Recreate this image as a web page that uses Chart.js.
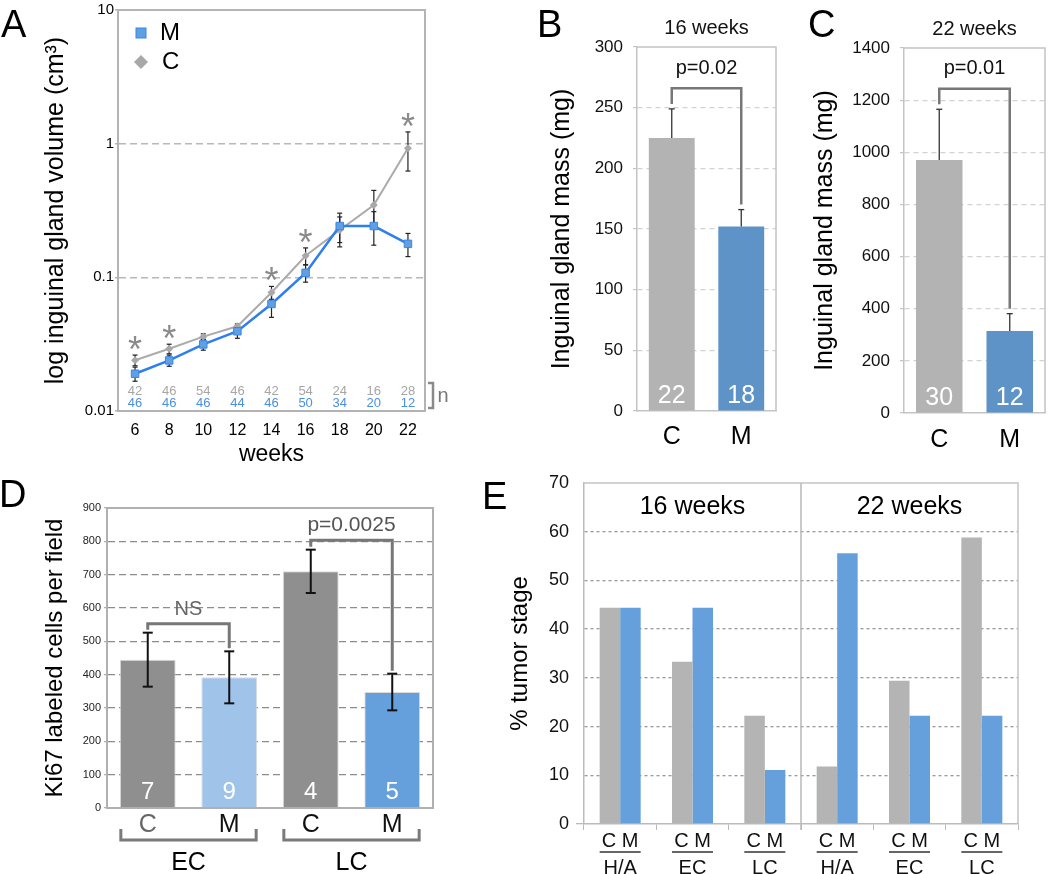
<!DOCTYPE html>
<html>
<head>
<meta charset="utf-8">
<title>Inguinal gland growth panels</title>
<script src="https://cdn.jsdelivr.net/npm/chart.js@4.4.1/dist/chart.umd.min.js"></script>
<style>
  body { margin: 0; background: #fff; }
  #page { position: relative; width: 1050px; height: 874px; overflow: hidden; font-family: "Liberation Sans", Arial, sans-serif; }
  .panel { position: absolute; }
  .letter { position: absolute; font-size: 38px; line-height: 1; color: #000; }
</style>
</head>
<body>
<div id="page">
  <div class="panel" style="left:0;top:0;width:470px;height:470px"><canvas id="chartA"></canvas></div>
  <div class="panel" style="left:520px;top:0;width:270px;height:450px"><canvas id="chartB"></canvas></div>
  <div class="panel" style="left:790px;top:0;width:260px;height:450px"><canvas id="chartC"></canvas></div>
  <div class="panel" style="left:0;top:455px;width:470px;height:419px"><canvas id="chartD"></canvas></div>
  <div class="panel" style="left:480px;top:455px;width:570px;height:419px"><canvas id="chartE"></canvas></div>
  <div class="letter" style="left:1px;top:5px">A</div>
  <div class="letter" style="left:537px;top:5px">B</div>
  <div class="letter" style="left:808px;top:5px">C</div>
  <div class="letter" style="left:-1px;top:475px">D</div>
  <div class="letter" style="left:482px;top:477px">E</div>
</div>
<script>
// panel A - gland volume over time (log scale)
const weeks = ['6', '8', '10', '12', '14', '16', '18', '20', '22'];
const volM = [0.019, 0.0239, 0.0315, 0.0395, 0.0632, 0.108, 0.242, 0.242, 0.178];
const volMErr = [0.0023, 0.0023, 0.003, 0.0045, 0.013, 0.016, 0.06, 0.068, 0.035];
const volC = [0.024, 0.0292, 0.036, 0.043, 0.077, 0.145, 0.226, 0.347, 0.924];
const volCErr = [0.0022, 0.0024, 0.0018, 0.0018, 0.0085, 0.021, 0.057, 0.1, 0.3];
const nC = [42, 46, 54, 46, 42, 54, 24, 16, 28];
const nM = [46, 46, 46, 44, 46, 50, 34, 20, 12];
const starWeeks = ['6', '8', '14', '16', '22'];
const volTicks = [0.01, 0.1, 1, 10];

// panels B and C - gland mass
const massLabels = ['C', 'M'];
const mass16 = [225, 152];
const mass16Err = [24, 14];
const mass16N = [22, 18];
const mass16Bracket = 266;
const mass22 = [970, 315];
const mass22Err = [195, 66];
const mass22N = [30, 12];
const mass22Bracket = 1244;

// panel D - Ki67
const ki67Labels = ['C', 'M', 'C', 'M'];
const ki67 = [445, 392, 710, 348];
const ki67Err = [81, 78, 65, 55];
const ki67N = [7, 9, 4, 5];
const ki67Groups = ['EC', 'LC'];
const nsBracket = 553;
const pBracket = 803;

// panel E - tumor stage
const stageLabels = ['H/A', 'EC', 'LC', 'H/A', 'EC', 'LC'];
const stageC = [44.4, 33.3, 22.2, 11.8, 29.4, 58.8];
const stageM = [44.4, 44.4, 11.1, 55.6, 22.2, 22.2];
const stageTimes = ['16 weeks', '22 weeks'];

const FONT = '"Liberation Sans", Arial, sans-serif';
const NONE = 'rgba(0,0,0,0)';
Chart.defaults.font.family = FONT;
Chart.defaults.color = '#000';
Chart.defaults.animation = false;
Chart.defaults.maintainAspectRatio = false;
Chart.defaults.plugins.legend.display = false;
Chart.defaults.plugins.tooltip.enabled = false;

function drawText(ctx, str, x, y, size, color, align, baseline) {
    ctx.save();
    ctx.font = size + 'px ' + FONT;
    ctx.fillStyle = color;
    ctx.textAlign = align || 'center';
    ctx.textBaseline = baseline || 'middle';
    ctx.fillText(str, x, y);
    ctx.restore();
}

function drawPath(ctx, pts, color, width) {
    ctx.save();
    ctx.strokeStyle = color;
    ctx.lineWidth = width;
    ctx.beginPath();
    ctx.moveTo(pts[0][0], pts[0][1]);
    for (let i = 1; i < pts.length; i++) ctx.lineTo(pts[i][0], pts[i][1]);
    ctx.stroke();
    ctx.restore();
}

function drawFrame(ctx, a, color, width) {
    drawPath(ctx, [[a.left, a.top], [a.right, a.top], [a.right, a.bottom]], color, width);
}

function drawError(ctx, x, yHi, yLo, cap, color, width, lowCap) {
    drawPath(ctx, [[x, yHi], [x, yLo]], color, width);
    drawPath(ctx, [[x - cap, yHi], [x + cap, yHi]], color, width);
    if (lowCap) drawPath(ctx, [[x - cap, yLo], [x + cap, yLo]], color, width);
}

function drawBracket(ctx, x1, x2, yLine, y1, y2, color, width) {
    drawPath(ctx, [[x1, y1], [x1, yLine], [x2, yLine], [x2, y2]], color, width);
}

// ---------- A ----------
const extrasA = {
    id: 'extrasA',
    beforeDatasetsDraw(chart) {
        const { ctx, chartArea: a, scales: { x, y } } = chart;
        drawFrame(ctx, a, '#b4b4b4', 2);
        weeks.forEach((w, i) => {
            const px = x.getPixelForValue(i);
            drawError(ctx, px, y.getPixelForValue(volC[i] + volCErr[i]), y.getPixelForValue(volC[i] - volCErr[i]), 2.5, '#222', 1.2, true);
            drawError(ctx, px, y.getPixelForValue(volM[i] + volMErr[i]), y.getPixelForValue(volM[i] - volMErr[i]), 2.5, '#222', 1.2, true);
        });
    },
    afterDatasetsDraw(chart) {
        const { ctx, chartArea: a, scales: { x, y } } = chart;
        weeks.forEach((w, i) => {
            const px = x.getPixelForValue(i);
            drawText(ctx, String(nC[i]), px, a.bottom - 20, 13, '#a6a6a6');
            drawText(ctx, String(nM[i]), px, a.bottom - 8, 13, '#4a90e0');
        });
        starWeeks.forEach(w => {
            const i = weeks.indexOf(w);
            drawText(ctx, '*', x.getPixelForValue(i), y.getPixelForValue(volC[i] + volCErr[i]) + 7, 36, '#8a8a8a', 'center', 'alphabetic');
        });
        drawPath(ctx, [[a.right + 3, a.bottom - 28], [a.right + 8, a.bottom - 28], [a.right + 8, a.bottom - 3], [a.right + 3, a.bottom - 3]], '#8a8a8a', 2.5);
        drawText(ctx, 'n', a.right + 18, a.bottom - 15, 20, '#777');
        // legend
        const lx = a.left + 23;
        ctx.save();
        ctx.fillStyle = '#5f9fe2';
        ctx.strokeStyle = '#3a86e6';
        ctx.lineWidth = 1;
        ctx.fillRect(lx - 5, a.top + 18, 10, 10);
        ctx.strokeRect(lx - 5, a.top + 18, 10, 10);
        ctx.fillStyle = '#a8a8a8';
        ctx.beginPath();
        ctx.moveTo(lx, a.top + 45);
        ctx.lineTo(lx + 7, a.top + 52);
        ctx.lineTo(lx, a.top + 59);
        ctx.lineTo(lx - 7, a.top + 52);
        ctx.closePath();
        ctx.fill();
        ctx.restore();
        drawText(ctx, 'M', lx + 19, a.top + 23, 24, '#000', 'left');
        drawText(ctx, 'C', lx + 21, a.top + 52, 24, '#000', 'left');
    }
};

new Chart(document.getElementById('chartA'), {
    type: 'line',
    data: {
        labels: weeks,
        datasets: [
            {
                label: 'M', data: volM, borderColor: '#2d7ff0', borderWidth: 2.5,
                pointStyle: 'rect', pointRadius: 5.3, pointBackgroundColor: '#5f9fe2',
                pointBorderColor: '#3a86e6', pointBorderWidth: 1
            },
            {
                label: 'C', data: volC, borderColor: '#ababab', borderWidth: 2,
                pointStyle: 'rectRot', pointRadius: 4, pointBackgroundColor: '#a8a8a8',
                pointBorderColor: '#a8a8a8', pointBorderWidth: 0
            }
        ]
    },
    options: {
        layout: { padding: { left: 0, right: 45, top: 9, bottom: 0 } },
        scales: {
            x: {
                offset: true,
                grid: { display: false, drawTicks: false },
                border: { color: '#b4b4b4', width: 2 },
                ticks: { font: { size: 16 }, padding: 10, color: '#000' },
                title: { display: true, text: 'weeks', font: { size: 23 }, padding: { top: 0, bottom: 2 }, color: '#000' },
                afterFit: s => { s.height = 59; }
            },
            y: {
                type: 'logarithmic', min: 0.01, max: 10,
                afterBuildTicks: s => { s.ticks = volTicks.map(v => ({ value: v })); },
                ticks: { font: { size: 15 }, padding: 1, color: '#000', callback: v => String(v) },
                grid: {
                    color: c => (c.index > 0 && c.index < volTicks.length - 1) ? '#b8b8b8' : NONE,
                    lineWidth: 1.5, tickColor: '#b4b4b4', tickLength: 3
                },
                border: { color: '#b4b4b4', width: 2, dash: [7, 4] },
                title: { display: true, text: 'log inguinal gland volume (cm³)', font: { size: 25 }, padding: { top: 41, bottom: 0 }, color: '#000' },
                afterFit: s => { s.width = 118; }
            }
        }
    },
    plugins: [extrasA]
});

// ---------- B and C ----------
function massExtras(id, vals, errs, ns, level, pText, title) {
    return {
        id,
        beforeDatasetsDraw(chart) {
            drawFrame(chart.ctx, chart.chartArea, '#c4c4c4', 1.5);
        },
        afterDatasetsDraw(chart) {
            const { ctx, chartArea: a, scales: { y } } = chart;
            const meta = chart.getDatasetMeta(0);
            const tops = [];
            vals.forEach((v, i) => {
                const bx = meta.data[i].x;
                const yHi = y.getPixelForValue(v + errs[i]);
                tops.push(yHi);
                drawError(ctx, bx, yHi, y.getPixelForValue(v), 3, '#333', 1.3, false);
                drawText(ctx, String(ns[i]), bx, a.bottom - 15, 25, '#fff');
            });
            const x1 = meta.data[0].x, x2 = meta.data[1].x;
            const yL = y.getPixelForValue(level);
            drawBracket(ctx, x1, x2, yL, tops[0] - 5, tops[1] - 5, '#777', 2.5);
            drawText(ctx, pText, (x1 + x2) / 2, yL - 20, 20, '#111');
            drawText(ctx, title, (a.left + a.right) / 2, a.top - 19, 20, '#111');
        }
    };
}

function massChart(canvasId, vals, max, step, yWidth, rightPad, top, xHeight, xPad, titlePad, plugin) {
    return new Chart(document.getElementById(canvasId), {
        type: 'bar',
        data: {
            labels: massLabels,
            datasets: [{ data: vals, backgroundColor: ['#b3b3b3', '#5e93c8'], barPercentage: 0.66, categoryPercentage: 1 }]
        },
        options: {
            layout: { padding: { left: 0, right: rightPad, top: top, bottom: 0 } },
            scales: {
                x: {
                    grid: { display: false, drawTicks: false },
                    border: { color: '#c4c4c4', width: 1.5 },
                    ticks: { font: { size: 25 }, padding: xPad, color: '#000' },
                    afterFit: s => { s.height = xHeight; }
                },
                y: {
                    min: 0, max: max,
                    ticks: { stepSize: step, font: { size: 17 }, padding: 10, color: '#111', callback: v => String(v) },
                    grid: {
                        color: c => (c.index > 0 && c.index < max / step) ? '#d2d2d2' : NONE,
                        lineWidth: 1.2, tickColor: '#c4c4c4', tickLength: 4
                    },
                    border: { color: '#c4c4c4', width: 1.5, dash: [5, 4] },
                    title: { display: true, text: 'Inguinal gland mass (mg)', font: { size: 25 }, padding: { top: titlePad, bottom: 0 }, color: '#000' },
                    afterFit: s => { s.width = yWidth; }
                }
            }
        },
        plugins: [plugin]
    });
}

massChart('chartB', mass16, 300, 50, 117, 14, 47, 39, 11, 27,
    massExtras('extrasB', mass16, mass16Err, mass16N, mass16Bracket, 'p=0.02', '16 weeks'));
massChart('chartC', mass22, 1400, 200, 114, 5, 48, 37, 12, 20,
    massExtras('extrasC', mass22, mass22Err, mass22N, mass22Bracket, 'p=0.01', '22 weeks'));

// ---------- D ----------
const extrasD = {
    id: 'extrasD',
    beforeDatasetsDraw(chart) {
        drawFrame(chart.ctx, chart.chartArea, '#b0b0b0', 2);
    },
    afterDatasetsDraw(chart) {
        const { ctx, chartArea: a, scales: { y } } = chart;
        const meta = chart.getDatasetMeta(0);
        const tops = [];
        ki67.forEach((v, i) => {
            const bx = meta.data[i].x;
            const yHi = y.getPixelForValue(v + ki67Err[i]);
            tops.push(yHi);
            drawError(ctx, bx, yHi, y.getPixelForValue(v - ki67Err[i]), 5, '#111', 2, true);
            drawText(ctx, String(ki67N[i]), bx, a.bottom - 16, 24, '#fff');
        });
        const xs = meta.data.map(b => b.x);
        let yL = y.getPixelForValue(nsBracket);
        drawBracket(ctx, xs[0], xs[1], yL, tops[0] - 3, tops[1] - 3, '#777', 3);
        drawText(ctx, 'NS', (xs[0] + xs[1]) / 2, yL - 14, 20, '#666');
        yL = y.getPixelForValue(pBracket);
        drawBracket(ctx, xs[2], xs[3], yL, tops[2] - 3, tops[3] - 3, '#777', 3);
        drawText(ctx, 'p=0.0025', (xs[2] + xs[3]) / 2, yL - 15, 21, '#555');
        ki67Groups.forEach((g, k) => {
            const b1 = meta.data[2 * k], b2 = meta.data[2 * k + 1];
            const left = b1.x - b1.width / 2 + 1, right = b2.x + b2.width / 2 - 1;
            drawPath(ctx, [[left, a.bottom + 21], [left, a.bottom + 32], [right, a.bottom + 32], [right, a.bottom + 21]], '#7a7a7a', 3);
            drawText(ctx, g, (left + right) / 2, a.bottom + 55, 25, '#000');
        });
    }
};

new Chart(document.getElementById('chartD'), {
    type: 'bar',
    data: {
        labels: ki67Labels,
        datasets: [{
            data: ki67, backgroundColor: ['#8f8f8f', '#a0c3ea', '#8f8f8f', '#659fdc'],
            borderColor: 'rgba(215,215,215,0.9)', borderWidth: 1,
            barPercentage: 0.685, categoryPercentage: 1
        }]
    },
    options: {
        layout: { padding: { left: 0, right: 37, top: 53, bottom: 0 } },
        scales: {
            x: {
                grid: { display: false, drawTicks: false },
                border: { color: '#b0b0b0', width: 2 },
                ticks: { font: { size: 25 }, padding: 2, color: c => c.index === 0 ? '#666' : '#111' },
                afterFit: s => { s.height = 66; }
            },
            y: {
                min: 0, max: 900,
                ticks: { stepSize: 100, font: { size: 11 }, padding: 3, color: '#222' },
                grid: {
                    color: c => (c.index > 0 && c.index < 9) ? '#8c8c8c' : NONE,
                    lineWidth: 1.3, tickColor: '#b0b0b0', tickLength: 3
                },
                border: { color: '#b0b0b0', width: 2, dash: [7, 4] },
                title: { display: true, text: 'Ki67 labeled cells per field', font: { size: 24 }, padding: { top: 41, bottom: 0 }, color: '#000' },
                afterFit: s => { s.width = 107; }
            }
        }
    },
    plugins: [extrasD]
});

// ---------- E ----------
const extrasE = {
    id: 'extrasE',
    beforeDatasetsDraw(chart) {
        const { ctx, chartArea: a, scales: { x } } = chart;
        drawFrame(ctx, a, '#c4c4c4', 1.5);
        const mid = (x.getPixelForValue(2) + x.getPixelForValue(3)) / 2;
        drawPath(ctx, [[mid, a.top], [mid, a.bottom + 6]], '#b8b8b8', 1.5);
        drawText(ctx, stageTimes[0], (a.left + mid) / 2, a.top + 24, 25, '#000');
        drawText(ctx, stageTimes[1], (mid + a.right) / 2, a.top + 24, 25, '#000');
    },
    afterDatasetsDraw(chart) {
        const { ctx, chartArea: a } = chart;
        const mc = chart.getDatasetMeta(0), mm = chart.getDatasetMeta(1);
        stageLabels.forEach((s, i) => {
            const left = mc.data[i].x - mc.data[i].width / 2;
            const right = mm.data[i].x + mm.data[i].width / 2;
            drawPath(ctx, [[left, a.bottom + 28], [right, a.bottom + 28]], '#333', 1.5);
        });
    }
};

new Chart(document.getElementById('chartE'), {
    type: 'bar',
    data: {
        labels: stageLabels,
        datasets: [
            { label: 'C', data: stageC, backgroundColor: '#b4b4b4', barPercentage: 1, categoryPercentage: 0.567 },
            { label: 'M', data: stageM, backgroundColor: '#65a0dc', barPercentage: 1, categoryPercentage: 0.567 }
        ]
    },
    options: {
        layout: { padding: { left: 0, right: 32, top: 28, bottom: 0 } },
        scales: {
            x: {
                grid: { offset: true, drawOnChartArea: false, color: '#bbb', tickLength: 6 },
                border: { color: '#bbb', width: 1.5 },
                ticks: {
                    font: { size: 20, lineHeight: 1.335 }, padding: -2, color: '#111',
                    callback: (v, i) => ['C M', stageLabels[i]]
                },
                afterFit: s => { s.height = 50; }
            },
            y: {
                min: 0, max: 70,
                ticks: { stepSize: 10, font: { size: 18 }, padding: 7, color: '#111' },
                grid: {
                    color: c => (c.index > 0 && c.index < 7) ? '#9a9a9a' : NONE,
                    lineWidth: 1.3, tickColor: c => c.index === 0 ? '#bbb' : NONE, tickLength: 8
                },
                border: { color: '#bbb', width: 1.5, dash: [3, 3] },
                title: { display: true, text: '% tumor stage', font: { size: 24 }, padding: { top: 26, bottom: 0 }, color: '#000' },
                afterFit: s => { s.width = 104; }
            }
        }
    },
    plugins: [extrasE]
});
</script>
</body>
</html>
